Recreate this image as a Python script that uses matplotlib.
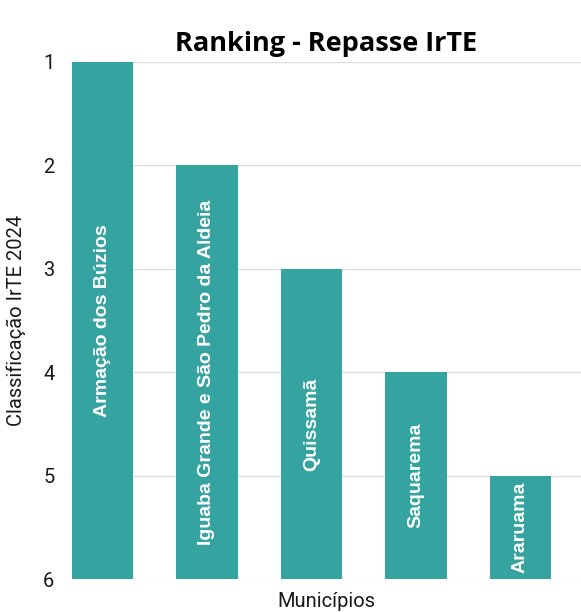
import matplotlib.pyplot as plt

municipios = ['Armação dos Búzios',
              'Iguaba Grande e São Pedro da Aldeia',
              'Quissamã',
              'Saquarema',
              'Araruama']
ranking = [1, 2, 3, 4, 5]
pior_posicao = 6

plt.rcParams['font.family'] = ['Roboto', 'DejaVu Sans']

fig = plt.figure(figsize=(5.81, 6.12), dpi=100)
ax = fig.add_axes([0.1222, 0.0539, 0.8778, 0.8448])

x = list(range(len(municipios)))
alturas = [pior_posicao - r for r in ranking]
ax.bar(x, alturas, bottom=ranking, width=0.59, color='#35a3a0', zorder=2)

# nome do município escrito dentro de cada barra
for xi, nome, r in zip(x, municipios, ranking):
    ax.text(xi, (r + pior_posicao) / 2, nome, rotation=90, ha='center',
            va='center', color='white', fontsize=14, fontweight='bold',
            family=['Liberation Sans', 'DejaVu Sans'], zorder=3)

ax.set_ylim(pior_posicao, 1)
ax.set_xlim(-0.3, 4.58)
ax.set_yticks(range(1, pior_posicao + 1))
ax.set_xticks([])
ax.tick_params(axis='y', length=0, pad=12, labelsize=14.5, labelcolor='#1a1a1a')
ax.grid(axis='y', color='#dddddd', linewidth=1, zorder=0)
for s in ax.spines.values():
    s.set_visible(False)

ax.set_xlabel('Municípios', fontsize=14.5, color='#1a1a1a', labelpad=9)
ax.set_ylabel('Classificação IrTE 2024', fontsize=14.5, color='#1a1a1a', labelpad=12)
ax.set_title('Ranking - Repasse IrTE', fontsize=19.5, fontweight='bold',
             family=['Open Sans', 'DejaVu Sans'], pad=8)

fig.savefig('out.png', dpi=100)
